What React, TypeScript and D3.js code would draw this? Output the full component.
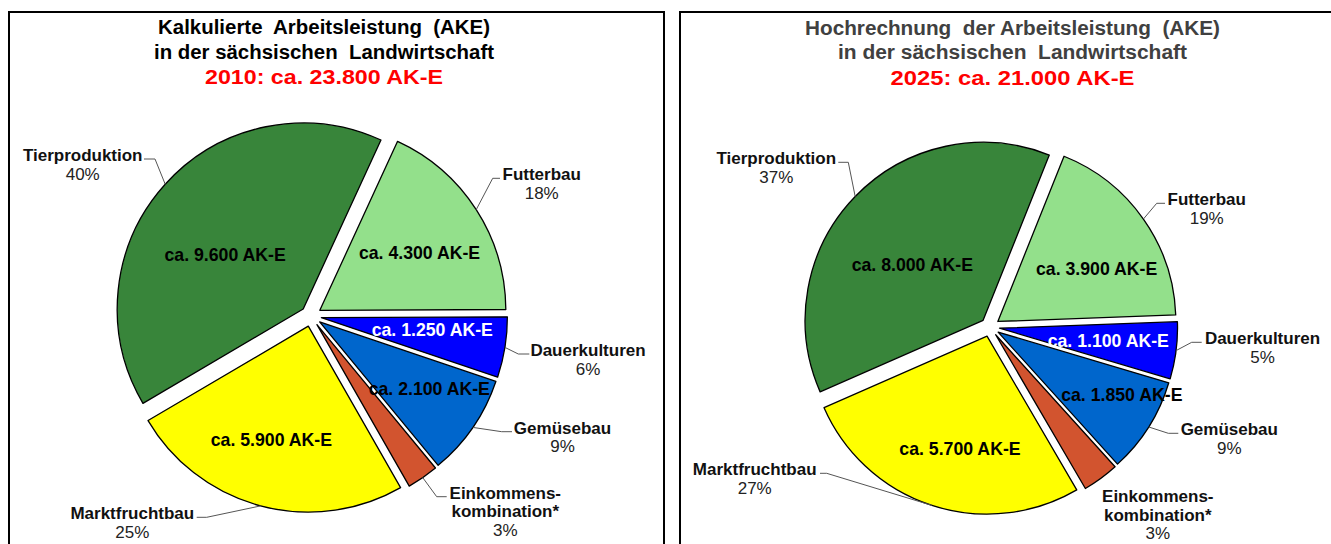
import React, { useRef, useEffect } from 'react';
import * as d3 from 'd3';

// --- Data ---
const categories = ['Tierproduktion', 'Futterbau', 'Dauerkulturen', 'Gemüsebau', 'Einkommens-|kombination*', 'Marktfruchtbau'];
const sliceColors = ['#38853a', '#93e08b', '#0000ff', '#0066cc', '#d2542f', '#ffff00'];

const values2010 = [9600, 4300, 1250, 2100, 650, 5900];
const percent2010 = ['40%', '18%', '6%', '9%', '3%', '25%'];
const values2025 = [8000, 3900, 1100, 1850, 700, 5700];
const percent2025 = ['37%', '19%', '5%', '9%', '3%', '27%'];

// which slices carry an inner "ca. ... AK-E" label
const showValue = [true, true, true, true, false, true];

const title2010 = ['Kalkulierte  Arbeitsleistung  (AKE)', 'in der sächsischen  Landwirtschaft', '2010: ca. 23.800 AK-E'];
const title2025 = ['Hochrechnung  der Arbeitsleistung  (AKE)', 'in der sächsischen  Landwirtschaft', '2025: ca. 21.000 AK-E'];

const fmt = (v: number) => 'ca. ' + d3.format(',')(v).replace(',', '.') + ' AK-E';

// --- Layout (pixels) ---
const panels = [
  {
    values: values2010, percents: percent2010, title: title2010, titleColor: '#000',
    frame: { x: 9, w: 655 },
    titleX: 324, titleW: [332, 340, 238], titleY: [34, 58.7, 84],
    cx: 311, cy: 316, r: 186, start: -120.5, explode: 10.5,
    inner: [[0.51, -7.5], [0.62, 2.6], [0.6, -2.8], [0.69, -3.2], null, [0.64, 3.2]],
    outer: [
      { x: 82.7, y: 155, lx: 144, ex: 155 },
      { x: 541.7, y: 174.3, lx: 500, ex: 492.7 },
      { x: 588, y: 350, lx: 529.3, ex: 518.3 },
      { x: 562.5, y: 427.7, lx: 512, ex: 501.7 },
      { x: 505.3, y: 492.7, lx: 446.7, ex: 436.7 },
      { x: 132.3, y: 513.3, lx: 196.7, ex: 206.7 },
    ],
  },
  {
    values: values2025, percents: percent2025, title: title2025, titleColor: '#404040',
    frame: { x: 680, w: 700 },
    titleX: 1012.5, titleW: [415, 349, 244], titleY: [34.7, 58.7, 84.7],
    cx: 990, cy: 327, r: 178, start: -113.7, explode: 9.6,
    inner: [[0.505, -6], [0.63, 6.9], [0.615, -0.6], [0.78, -5.2], null, [0.65, -4.5]],
    outer: [
      { x: 776.3, y: 158.3, lx: 838.3, ex: 848.3 },
      { x: 1206.7, y: 199.3, lx: 1165, ex: 1156.7 },
      { x: 1262.5, y: 338.3, lx: 1201.7, ex: 1191.7 },
      { x: 1229.3, y: 429.3, lx: 1178.3, ex: 1168.3 },
      { x: 1157.8, y: 496, lx: null, ex: null },
      { x: 754.7, y: 469.3, lx: 820, ex: 826.7 },
    ],
  },
];

const FONT = '"Liberation Sans", Arial, sans-serif';
const rad = (deg: number) => (deg * Math.PI) / 180;

const App = () => {
  const svgRef = useRef<SVGSVGElement>(null);

  useEffect(() => {
    const svg = d3.select(svgRef.current).html('');

    panels.forEach((p) => {
      // frame
      svg.append('rect')
        .attr('x', p.frame.x).attr('y', 12)
        .attr('width', p.frame.w).attr('height', 620)
        .attr('fill', '#fff').attr('stroke', '#000').attr('stroke-width', 2);

      // title
      p.title.forEach((t, i) => {
        svg.append('text')
          .attr('x', p.titleX).attr('y', p.titleY[i])
          .attr('text-anchor', 'middle')
          .attr('font-family', FONT).attr('font-weight', 'bold').attr('font-size', 20)
          .attr('fill', i === 2 ? '#ff0000' : p.titleColor)
          .attr('textLength', p.titleW[i]).attr('lengthAdjust', 'spacingAndGlyphs')
          .style('white-space', 'pre')
          .text(t);
      });

      const start = rad(p.start);
      const pie = d3.pie<number>().value((d) => d).sort(null)
        .startAngle(start).endAngle(start + 2 * Math.PI);
      const arcs = pie(p.values);
      const arc = d3.arc<d3.PieArcDatum<number>>().innerRadius(0).outerRadius(p.r);

      const g = svg.append('g');
      arcs.forEach((a, i) => {
        const mid = (a.startAngle + a.endAngle) / 2;
        const ox = p.cx + p.explode * Math.sin(mid);
        const oy = p.cy - p.explode * Math.cos(mid);

        g.append('path')
          .attr('d', arc(a))
          .attr('transform', `translate(${ox},${oy})`)
          .attr('fill', sliceColors[i])
          .attr('stroke', '#000').attr('stroke-width', 1.3)
          .attr('stroke-linejoin', 'round');

        // inner value label
        const inn = p.inner[i];
        if (showValue[i] && inn) {
          const ang = mid + rad(inn[1]);
          const lx = ox + inn[0] * p.r * Math.sin(ang);
          const ly = oy - inn[0] * p.r * Math.cos(ang);
          svg.append('text')
            .attr('x', lx).attr('y', ly + 6.3)
            .attr('text-anchor', 'middle')
            .attr('font-family', FONT).attr('font-weight', 'bold').attr('font-size', 17.7)
            .attr('fill', i === 2 ? '#fff' : '#000')
            .text(fmt(p.values[i]));
        }

        // outer category label with leader line
        const o = p.outer[i];
        if (o.lx !== null) {
          const ax = ox + p.r * Math.sin(mid);
          const ay = oy - p.r * Math.cos(mid);
          svg.append('path')
            .attr('d', d3.line()([[o.lx, o.y + 4], [o.ex, o.y + 4], [ax, ay]]))
            .attr('fill', 'none').attr('stroke', '#555').attr('stroke-width', 1);
        }
        const lines = categories[i].split('|');
        lines.forEach((ln, k) => {
          svg.append('text')
            .attr('x', o.x).attr('y', o.y + 6 + k * 18.5)
            .attr('text-anchor', 'middle')
            .attr('font-family', FONT).attr('font-weight', 'bold').attr('font-size', 17)
            .attr('fill', '#111')
            .text(ln);
        });
        svg.append('text')
          .attr('x', o.x).attr('y', o.y + 6 + lines.length * 18.7)
          .attr('text-anchor', 'middle')
          .attr('font-family', FONT).attr('font-size', 17)
          .attr('fill', '#222')
          .text(p.percents[i]);
      });
    });
  }, []);

  return (
    <svg ref={svgRef} width={1331} height={544}
      style={{ position: 'absolute', left: 0, top: 0, background: '#fff' }} />
  );
};

export default App;
